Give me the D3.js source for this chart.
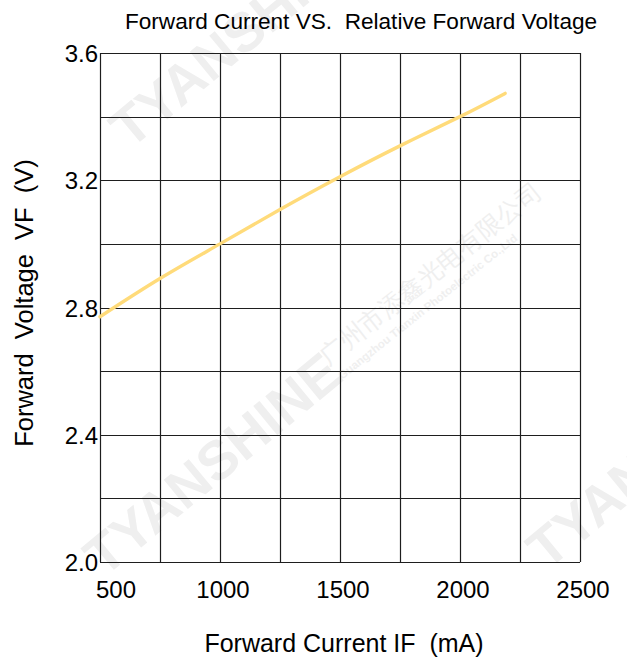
<!DOCTYPE html>
<html>
<head>
<meta charset="utf-8">
<script src="https://cdn.jsdelivr.net/npm/d3@7"></script>
<style>
  body { margin: 0; background: #fff; }
  svg text { font-family: "Liberation Sans", Arial, sans-serif; white-space: pre; }
</style>
</head>
<body>
<div id="chart"></div>
<script>
// Data
const currentMA = [500, 750, 1000, 1250, 1500, 1750, 2000, 2188];
const voltageV = [2.771, 2.891, 3.0, 3.108, 3.211, 3.308, 3.4, 3.473];
const xTicks = [500, 1000, 1500, 2000, 2500];
const yTicks = [2.0, 2.4, 2.8, 3.2, 3.6];
const xGrid = d3.range(500, 2501, 250);
const yGrid = d3.range(0, 9).map(i => 2.0 + i * 0.2);

const config = {
    width: 627,
    height: 660,
    margin: { top: 53, right: 47, bottom: 98, left: 100 },
    lineColor: "#ffdb7a",
    gridColor: "#1e1e1e",
    markColor: "#efefef"
};

const innerW = config.width - config.margin.left - config.margin.right;
const innerH = config.height - config.margin.top - config.margin.bottom;

const svg = d3.select("#chart")
    .append("svg")
    .attr("width", config.width)
    .attr("height", config.height);

// watermarks (behind everything)
const marks = svg.append("g").attr("fill", config.markColor);
const tyan = [[104, 578], [130, 150], [547, 571]];
tyan.forEach(p => {
    marks.append("text")
        .attr("transform", `translate(${p[0]},${p[1]}) rotate(-39.5)`)
        .attr("font-size", 55)
        .attr("font-weight", "bold")
        .text("TYANSHINE");
});
marks.append("text")
    .attr("transform", "translate(328,366) rotate(-38.5)")
    .attr("font-size", 25)
    .attr("font-family", "'Noto Sans CJK SC', sans-serif")
    .text("广州市添鑫光电有限公司");
marks.append("text")
    .attr("transform", "translate(342,380) rotate(-38.5)")
    .attr("font-size", 11.5)
    .attr("font-weight", "bold")
    .text("Guangzhou Tianxin Photoelectric Co.,Ltd");

const chart = svg.append("g")
    .attr("transform", `translate(${config.margin.left},${config.margin.top})`);

const x = d3.scaleLinear().domain([500, 2500]).range([0, innerW]);
const y = d3.scaleLinear().domain([2.0, 3.6]).range([innerH, 0]);

// grid
chart.append("g")
    .selectAll("line")
    .data(xGrid)
    .join("line")
    .attr("x1", d => Math.round(x(d)) + 0.5)
    .attr("x2", d => Math.round(x(d)) + 0.5)
    .attr("y1", 0)
    .attr("y2", innerH)
    .attr("stroke", config.gridColor)
    .attr("stroke-width", 1.2);

chart.append("g")
    .selectAll("line")
    .data(yGrid)
    .join("line")
    .attr("y1", d => Math.round(y(d)) + 0.5)
    .attr("y2", d => Math.round(y(d)) + 0.5)
    .attr("x1", 0)
    .attr("x2", innerW)
    .attr("stroke", config.gridColor)
    .attr("stroke-width", 1.2);

// curve
const line = d3.line()
    .x((d, i) => x(currentMA[i]))
    .y(d => y(d))
    .curve(d3.curveNatural);

chart.append("path")
    .datum(voltageV)
    .attr("d", line)
    .attr("fill", "none")
    .attr("stroke", config.lineColor)
    .attr("stroke-width", 3.4)
    .attr("stroke-linecap", "round");

// tick labels
chart.append("g")
    .selectAll("text")
    .data(yTicks)
    .join("text")
    .attr("x", -2)
    .attr("y", d => y(d) + 9)
    .attr("text-anchor", "end")
    .attr("font-size", 24)
    .text(d => d.toFixed(1));

chart.append("g")
    .selectAll("text")
    .data(xTicks)
    .join("text")
    .attr("x", (d, i) => x(d) + (i === 0 ? 16 : 3))
    .attr("y", innerH + 36)
    .attr("text-anchor", "middle")
    .attr("font-size", 24)
    .text(d => d);

// titles
svg.append("text")
    .attr("x", 361)
    .attr("y", 29)
    .attr("text-anchor", "middle")
    .attr("font-size", 22.6)
    .text("Forward Current VS.  Relative Forward Voltage");

svg.append("text")
    .attr("x", 344)
    .attr("y", 652)
    .attr("text-anchor", "middle")
    .attr("font-size", 25)
    .text("Forward Current IF  (mA)");

svg.append("text")
    .attr("transform", "translate(33,303) rotate(-90)")
    .attr("text-anchor", "middle")
    .attr("font-size", 25.5)
    .text("Forward  Voltage  VF  (V)");
</script>
</body>
</html>
